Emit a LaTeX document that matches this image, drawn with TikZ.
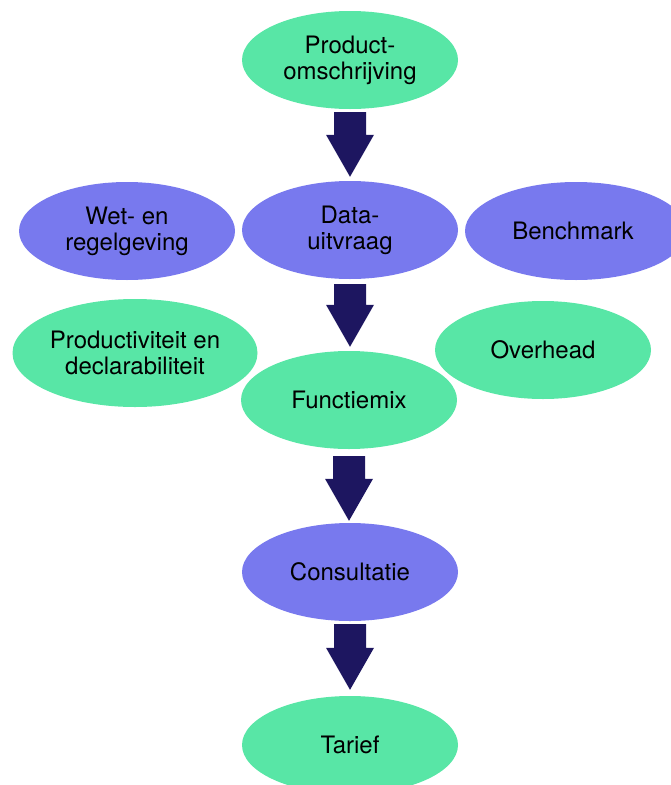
\documentclass[tikz,border=0pt]{standalone}
\usepackage{fontspec}
\setmainfont{TeX Gyre Heros}
\usetikzlibrary{calc,shapes.geometric}
\definecolor{mint}{HTML}{58E6A6}
\definecolor{lila}{HTML}{7879EE}
\definecolor{navy}{HTML}{1D1660}
\tikzset{
  blob/.style={ellipse, draw=none, inner sep=0pt, minimum width=216pt, minimum height=98pt},
  gblob/.style={blob, fill=mint},
  pblob/.style={blob, fill=lila},
  txt/.style={align=center, inner sep=0pt, font=\fontsize{24}{26}\selectfont, text=black},
}
\newcommand\blockarrow[4]{%
  \fill[navy] let \p1=(#1.south), \p2=(#2.north) in
    (\x1-16pt,\y1-#3) -- (\x1+16pt,\y1-#3) -- (\x1+16pt,\y2+#4+42pt) --
    (\x1+24pt,\y2+#4+42pt) -- (\x1,\y2+#4) -- (\x1-24pt,\y2+#4+42pt) --
    (\x1-16pt,\y2+#4+42pt) -- cycle;}
\begin{document}
\begin{tikzpicture}[x=1pt,y=-1pt]
\useasboundingbox (0,0) rectangle (670,785);
% ellipses
\node[gblob] (prod) at (350,60) {};
\node[pblob] (data) at (350,230) {};
\node[pblob] (wet) at (127,231) {};
\node[pblob, minimum width=222pt] (bench) at (576,231) {};
\node[gblob, minimum width=245pt, minimum height=108pt] (prodv) at (135,353) {};
\node[gblob] (over) at (543,350) {};
\node[gblob] (func) at (349,400) {};
\node[pblob] (cons) at (350,572) {};
\node[gblob] (tar) at (350,745) {};
% texts
\node[txt] (prod-t) at (prod) {Product-\\omschrijving};
\node[txt] (data-t) at (data) {Data-\\uitvraag};
\node[txt] (wet-t) at (wet) {Wet- en\\regelgeving};
\node[txt] (bench-t) at (573,231) {Benchmark};
\node[txt] (prodv-t) at (prodv) {Productiviteit en\\declarabiliteit};
\node[txt] (over-t) at (over) {Overhead};
\node[txt] (func-t) at (func) {Functiemix};
\node[txt] (cons-t) at (cons) {Consultatie};
\node[txt] (tar-t) at (tar) {Tarief};
% arrows
\blockarrow{prod}{data}{3pt}{4pt}
\blockarrow{data}{func}{5pt}{4pt}
\blockarrow{func}{cons}{7pt}{2pt}
\blockarrow{cons}{tar}{3pt}{6pt}
\end{tikzpicture}
\end{document}
